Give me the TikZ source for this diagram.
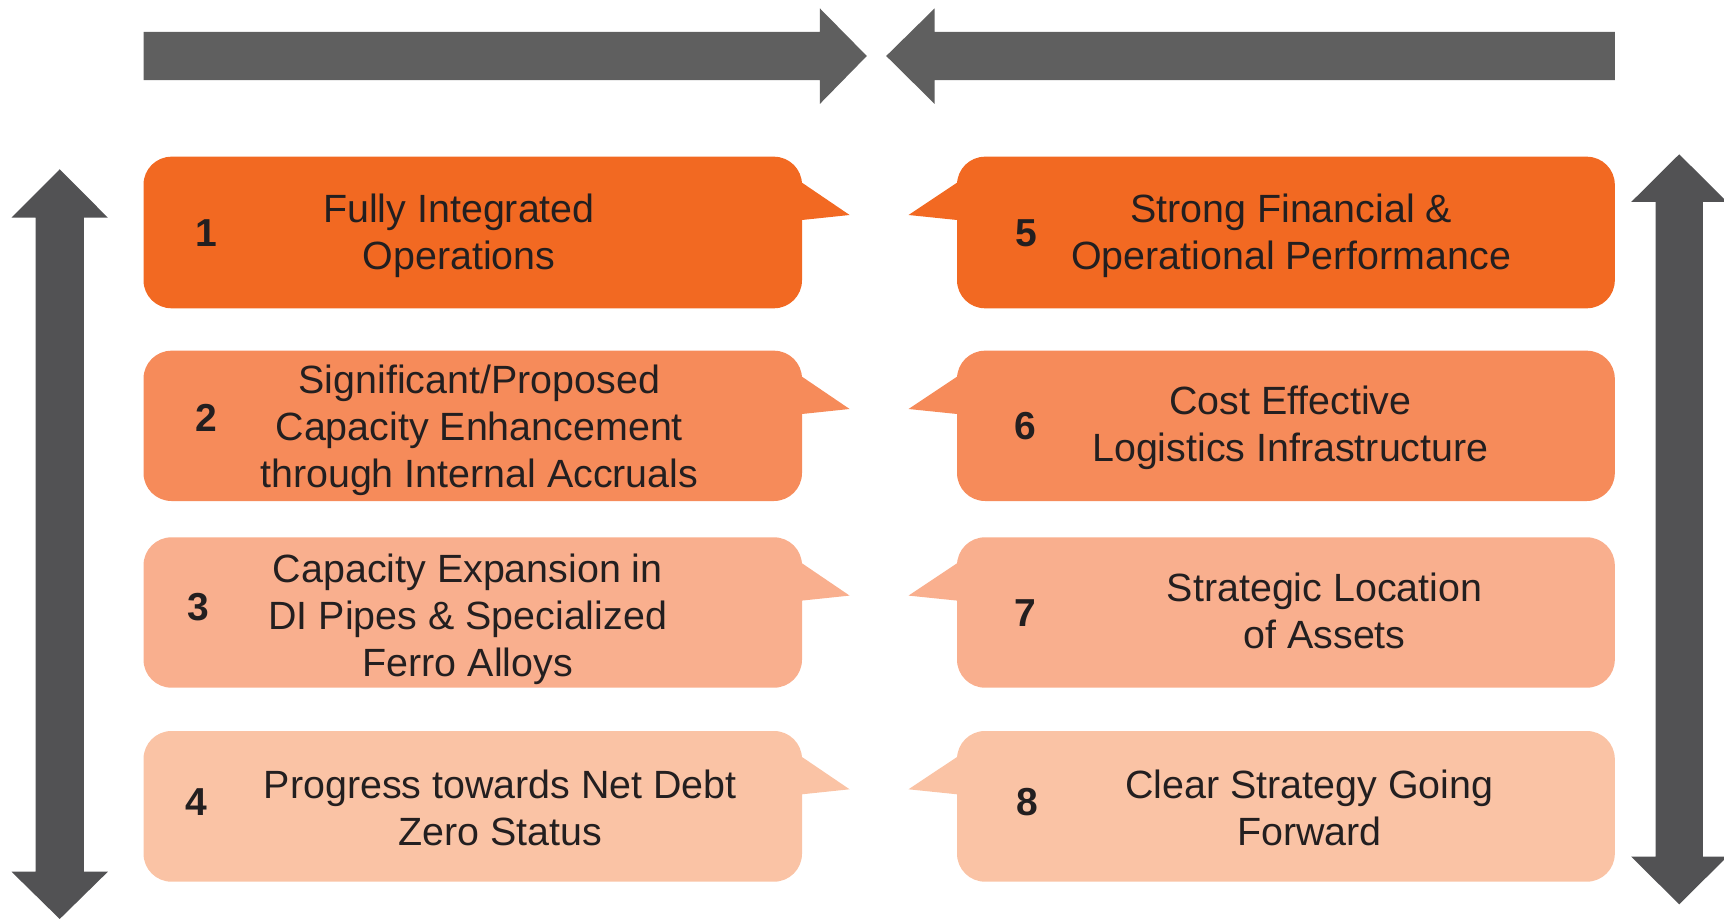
\documentclass[tikz,border=0pt]{standalone}
\usepackage{fontspec}
\setmainfont{Liberation Sans}
\definecolor{oA}{HTML}{F26922}
\definecolor{oB}{HTML}{F68B5A}
\definecolor{oC}{HTML}{F9AF8E}
\definecolor{oD}{HTML}{FAC3A5}
\definecolor{arrH}{HTML}{5F5F5F}
\definecolor{arrV}{HTML}{525254}
\definecolor{txt}{HTML}{231F20}
\begin{document}
\begin{tikzpicture}[x=0.5pt,y=-0.5pt,
  label text/.style={text=txt,align=center,inner sep=0pt,font=\fontsize{19.7}{23.5}\selectfont},
  num text/.style={text=txt,inner sep=0pt,font=\fontsize{19.5}{23.5}\selectfont\bfseries},
  boxshape/.style={rounded corners=14pt}]
\useasboundingbox (0,0) rectangle (1724,919);
% top arrows
\fill[arrH] (143.5,31.8) -- (819.8,31.8) -- (819.8,8.3) -- (866.8,56) -- (819.8,104) -- (819.8,80.2) -- (143.5,80.2) -- cycle;
\fill[arrH] (1614.8,31.8) -- (934.7,31.8) -- (934.7,8.3) -- (886.2,56) -- (934.7,104) -- (934.7,80.2) -- (1614.8,80.2) -- cycle;
% vertical arrows
\fill[arrV] (59.7,169.3) -- (107.9,217.7) -- (83.8,217.7) -- (83.8,871.7) -- (107.9,871.7) -- (59.7,919) -- (11.5,871.7) -- (35.6,871.7) -- (35.6,217.7) -- (11.5,217.7) -- cycle;
\fill[arrV] (1679.2,154.3) -- (1727.2,202) -- (1702.8,202) -- (1702.8,856.7) -- (1727.2,856.7) -- (1679.2,904.3) -- (1631.2,856.7) -- (1655.5,856.7) -- (1655.5,202) -- (1631.2,202) -- cycle;
% boxes
\foreach \ya/\yb/\col in {156.7/308.3/oA, 350.7/501/oB, 537.3/687.7/oC, 731/881.7/oD}{
  \fill[\col,boxshape] (143.5,\ya) rectangle (802,\yb);
  \fill[\col] (790,\ya+26) -- (802,\ya+26) -- (849.6,\ya+58.3) -- (802,\ya+63.3) -- (790,\ya+63.3) -- cycle;
  \fill[\col,boxshape] (957,\ya) rectangle (1614.8,\yb);
  \fill[\col] (969,\ya+26) -- (957,\ya+26) -- (908.5,\ya+58.3) -- (957,\ya+63.3) -- (969,\ya+63.3) -- cycle;
}
% numbers
\node[num text] (n1) at (206.7,233) {1};
\node[num text] (n2) at (206.7,418.3) {2};
\node[num text] (n3) at (198,606.7) {3};
\node[num text] (n4) at (196.3,801.7) {4};
\node[num text] (n5) at (1026.7,233) {5};
\node[num text] (n6) at (1025.6,426) {6};
\node[num text] (n7) at (1025.6,612.7) {7};
\node[num text] (n8) at (1027.3,801.7) {8};
% labels
\node[label text] (t1) at (459,236) {Fully Integrated\\Operations};
\node[label text] (t2) at (479.3,430.3) {Significant/Proposed\\Capacity Enhancement\\through Internal Accruals};
\node[label text] (t3) at (467.8,619.2) {Capacity Expansion in\\DI Pipes \& Specialized\\Ferro Alloys};
\node[label text] (t4) at (500.3,807.5) {Progress towards Net Debt\\Zero Status};
\node[label text] (t5) at (1291.2,236) {Strong Financial \&\\Operational Performance};
\node[label text] (t6) at (1290.4,427.5) {Cost Effective\\Logistics Infrastructure};
\node[label text] (t7) at (1324.6,611) {Strategic Location\\of Assets};
\node[label text] (t8) at (1309.3,807.5) {Clear Strategy Going\\Forward};
\end{tikzpicture}
\end{document}
